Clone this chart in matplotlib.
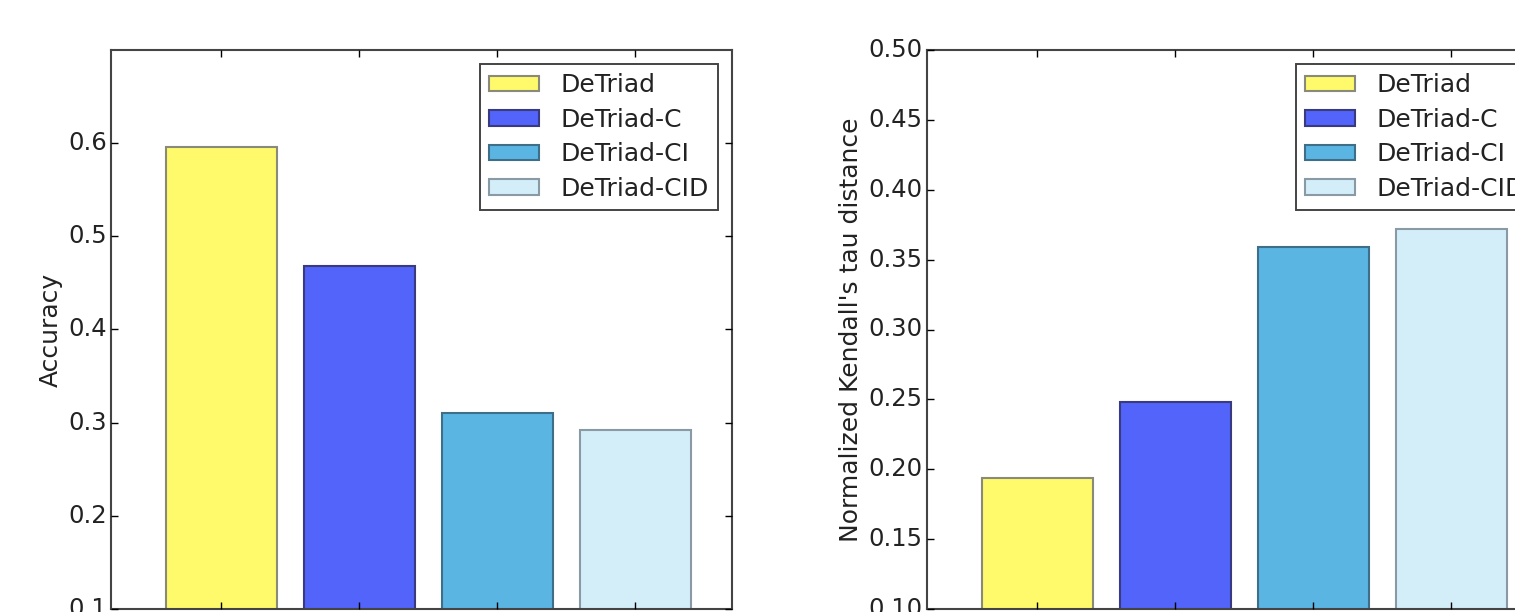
import matplotlib
matplotlib.use("Agg")
import matplotlib.pyplot as plt
import numpy as np

plt.style.use('classic')

methods = ["DeTriad", "DeTriad-C", "DeTriad-CI", "DeTriad-CID"]
accuracy = [0.596, 0.468, 0.310, 0.292]
kendall = [0.194, 0.248, 0.359, 0.372]
colors = ["#FFFA6B", "#5264FA", "#5BB5E3", "#D4EEF9"]
edges = ["#8a8a7a", "#3a3a80", "#3f6f88", "#8a9aa4"]

fig = plt.figure(figsize=(15.15, 6.12), dpi=100, facecolor="white")
W, H = 1515.0, 612.0
ax1 = fig.add_axes([111 / W, 3 / H, 621 / W, 559 / H])
ax2 = fig.add_axes([927 / W, 3 / H, 621 / W, 559 / H])

x = np.arange(len(methods))
for ax, vals, ylab, ylim, yt, fmt in [
    (ax1, accuracy, "Accuracy", (0.1, 0.7), np.arange(0.1, 0.65, 0.1), "%.1f"),
    (ax2, kendall, "Normalized Kendall's tau distance", (0.10, 0.50), np.arange(0.10, 0.501, 0.05), "%.2f"),
]:
    for i in range(len(methods)):
        ax.bar(x[i], vals[i], width=0.8, bottom=0, align="center", color=colors[i],
               edgecolor=edges[i], linewidth=1.5, label=methods[i])
    ax.set_xlim(-0.8, 3.7)
    ax.set_ylim(*ylim)
    ax.set_yticks(yt)
    ax.set_yticklabels([fmt % v for v in yt], fontsize=17.5, color="#222222")
    ax.set_xticks(x)
    ax.set_xticklabels([])
    ax.tick_params(direction="in", length=5, width=1, pad=3, top=True, right=True)
    ax.set_ylabel(ylab, fontsize=18, color="#222222", labelpad=4)
    for s in ax.spines.values():
        s.set_linewidth(1.5)
        s.set_color("#444444")
    leg = ax.legend(loc="upper right", fontsize=18, borderaxespad=0.55,
                    handlelength=2.0, handleheight=0.6, labelspacing=0.42,
                    borderpad=0.38, handletextpad=0.85, fancybox=False)
    leg.get_frame().set_edgecolor("#444444")
    leg.get_frame().set_linewidth(1.4)
    for t in leg.get_texts():
        t.set_color("#222222")

fig.savefig("out.png", dpi=100, facecolor="white")
